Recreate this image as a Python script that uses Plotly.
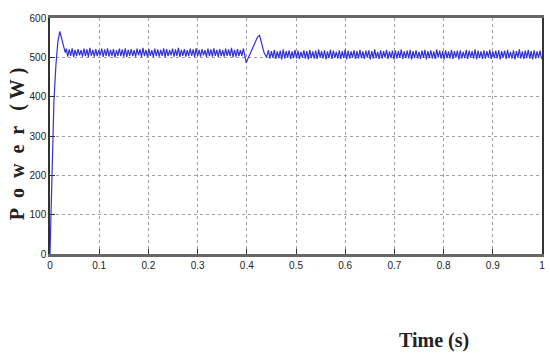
import numpy as np
import plotly.graph_objects as go

# Start-up transient
t_start = [0.0, 0.004, 0.008, 0.012, 0.016, 0.02, 0.024, 0.028, 0.031]
p_start = [0, 230, 390, 480, 540, 566, 548, 525, 512]

# Steady ripple before the disturbance (t = 0.033 .. 0.396, step 0.003)
p_ripple1 = [
    522, 502, 520, 504, 523, 501, 519, 503, 521, 505, 518, 502, 522, 503, 520, 501, 524, 504, 519, 502,
    521, 503, 518, 505, 522, 501, 520, 504, 523, 502, 519, 503, 521, 500, 518, 504, 522, 503, 520, 502,
    523, 501, 519, 504, 521, 503, 518, 502, 522, 505, 520, 501, 524, 503, 519, 502, 521, 504, 518, 501,
    522, 503, 520, 502, 519, 504, 523, 501, 521, 503, 518, 505, 522, 502, 520, 503, 524, 501, 519, 504,
    521, 502, 518, 503, 522, 504, 520, 501, 523, 503, 519, 502, 521, 505, 518, 501, 522, 503, 520, 502,
    523, 504, 519, 501, 521, 503, 518, 502, 522, 504, 520, 503, 524, 501, 519, 502, 521, 503, 518, 504,
    522, 501,
]

# Disturbance around t = 0.4 s
t_dist = [0.399, 0.402, 0.406, 0.410, 0.414, 0.418, 0.422, 0.426, 0.430, 0.435, 0.440]
p_dist = [486, 496, 508, 520, 532, 542, 552, 556, 534, 512, 500]

# Steady ripple after the disturbance (t = 0.444 .. 0.999, step 0.003)
p_ripple2 = [
    518, 497, 516, 499, 519, 496, 515, 498, 517, 495, 520, 497, 516, 499, 518, 496, 515, 498, 519, 497,
    517, 496, 514, 499, 518, 497, 516, 495, 519, 498, 515, 497, 517, 496, 520, 499, 516, 497, 518, 495,
    515, 498, 519, 496, 517, 499, 514, 497, 518, 496, 516, 498, 520, 495, 517, 497, 515, 499, 518, 496,
    516, 497, 519, 498, 515, 496, 517, 499, 518, 495, 516, 497, 520, 498, 514, 496, 518, 497, 516, 499,
    519, 496, 515, 498, 517, 495, 518, 497, 516, 499, 520, 496, 515, 498, 517, 497, 519, 495, 516, 498,
    518, 497, 514, 496, 517, 499, 519, 495, 516, 498, 518, 497, 515, 496, 520, 499, 517, 497, 516, 495,
    518, 498, 515, 497, 519, 496, 516, 499, 517, 495, 518, 497, 514, 498, 519, 496, 517, 499, 516, 497,
    520, 495, 517, 498, 515, 496, 518, 497, 516, 499, 519, 496, 515, 498, 517, 497, 518, 495, 516, 499,
    517, 496, 519, 498, 514, 497, 518, 495, 516, 499, 520, 497, 515, 496, 517, 498, 519, 497, 516, 495,
    518, 497, 515, 499, 517, 496,
]

t_ripple1 = list(np.round(0.033 + 0.003 * np.arange(len(p_ripple1)), 4))
t_ripple2 = list(np.round(0.444 + 0.003 * np.arange(len(p_ripple2)), 4))

time = t_start + t_ripple1 + t_dist + t_ripple2
power = p_start + p_ripple1 + p_dist + p_ripple2

x_ticks = [0, 0.1, 0.2, 0.3, 0.4, 0.5, 0.6, 0.7, 0.8, 0.9, 1]
x_labels = ["0", "0.1", "0.2", "0.3", "0.4", "0.5", "0.6", "0.7", "0.8", "0.9", "1"]
y_ticks = [0, 100, 200, 300, 400, 500, 600]

fig = go.Figure()
fig.add_trace(go.Scatter(x=time, y=power, mode="lines",
                         line=dict(color="rgb(50,50,215)", width=1.2)))

tick_font = dict(family="Liberation Sans", size=10, color="#222")

fig.update_layout(
    width=550, height=362,
    margin=dict(l=50, r=5, t=18, b=108),
    paper_bgcolor="white", plot_bgcolor="white",
    showlegend=False,
    xaxis=dict(range=[0, 1], tickvals=x_ticks, ticktext=x_labels,
               showgrid=True, gridcolor="#a0a0a0", griddash="dot", gridwidth=1,
               showline=True, linecolor="#666", linewidth=2.5, mirror=True,
               ticks="inside", ticklen=5, tickcolor="#333",
               tickfont=tick_font, zeroline=False),
    yaxis=dict(range=[0, 600], tickvals=y_ticks,
               showgrid=True, gridcolor="#a0a0a0", griddash="dot", gridwidth=1,
               showline=True, linecolor="#333", linewidth=1.5, mirror=True,
               ticks="inside", ticklen=5, tickcolor="#333",
               tickfont=tick_font, zeroline=False),
    annotations=[
        dict(text="<b>Time (s)</b>", x=436, y=340, xref="paper", yref="paper",
             xanchor="center", yanchor="middle",
             showarrow=False, font=dict(family="Liberation Serif", size=20, color="#222")),
        dict(text="<b>P&nbsp; o&nbsp; w&nbsp; e&nbsp; r&nbsp;&nbsp; (&nbsp;W&nbsp;)</b>",
             x=17, y=144, xref="paper", yref="paper",
             xanchor="center", yanchor="middle",
             showarrow=False, textangle=-90,
             font=dict(family="Liberation Serif", size=20, color="#222")),
    ],
)

# convert annotation pixel positions into paper coordinates
pw = 550 - 50 - 5
ph = 362 - 18 - 108
for a in fig.layout.annotations:
    px, py = a.x, a.y
    a.x = (px - 50) / pw
    a.y = (362 - 108 - py) / ph

fig.write_html("out.html")
